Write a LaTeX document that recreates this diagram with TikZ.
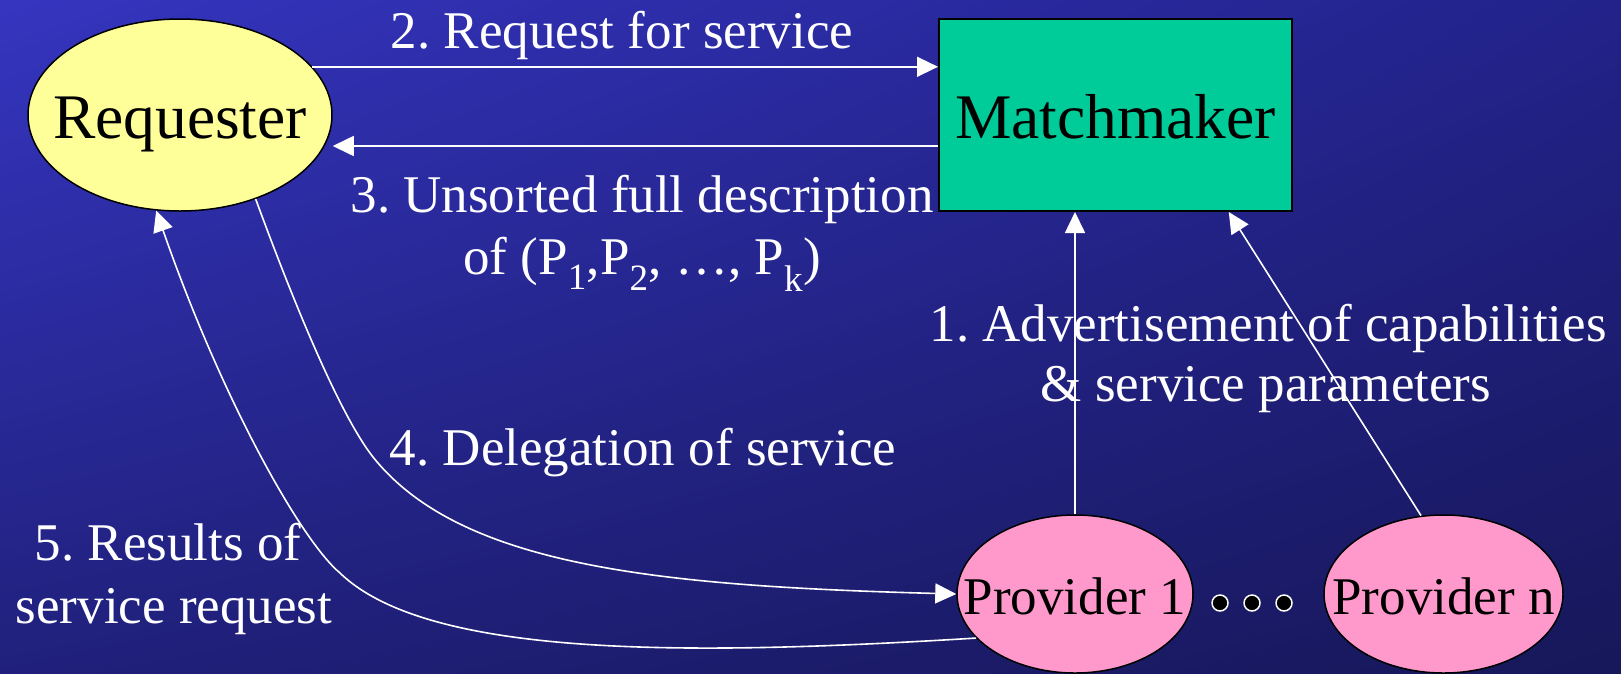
\documentclass[tikz,border=0pt]{standalone}
\usepackage{fontspec}
\setmainfont{Liberation Serif}
\usetikzlibrary{arrows.meta,calc,shapes.geometric,shadings}
\definecolor{bgUL}{HTML}{3535C0}
\definecolor{bgUR}{HTML}{22228A}
\definecolor{bgLL}{HTML}{20207C}
\definecolor{bgLR}{HTML}{17175A}
\definecolor{reqfill}{HTML}{FFFF99}
\definecolor{mmfill}{HTML}{00CC99}
\definecolor{provfill}{HTML}{FF99CC}
\frenchspacing
\begin{document}
\begin{tikzpicture}[x=1pt,y=-1pt,
  bigtext/.style={font=\fontsize{63.5}{70}\selectfont},
  midtext/.style={font=\fontsize{53}{62}\selectfont},
  lbl/.style={text=white, midtext, anchor=base, inner sep=0pt},
  oval/.style={ellipse, draw=black, line width=1.5pt, inner sep=0pt},
  conn/.style={draw=white, line width=1.6pt, -{Triangle[length=21pt,width=20pt]}},
  dotn/.style={circle, fill=black, draw=white, line width=1.5pt, minimum size=16pt, inner sep=0pt}]
\shade[upper left=bgUL, upper right=bgUR, lower left=bgLL, lower right=bgLR] (0,0) rectangle (1621,673);
\useasboundingbox (0,0) rectangle (1621,673);

% labels
\node[lbl] (t2) at (622,48) {2. Request for service};
\node[lbl] (t3a) at (642,212) {3. Unsorted full description};
\node[lbl] (t3b) at (642,274) {of (P\textsubscript{1},P\textsubscript{2}, …, P\textsubscript{k})};
\node[lbl] (t1a) at (1268,341) {1. Advertisement of capabilities};
\node[lbl] (t1b) at (1266,401) {\& service parameters};
\node[lbl] (t4) at (643,465) {4. Delegation of service};
\node[lbl] (t5a) at (168,560) {5. Results of};
\node[lbl] (t5b) at (174,623) {service request};

% nodes
\node[oval, fill=reqfill, bigtext, minimum width=304pt, minimum height=192pt,
      text height=46pt, text depth=0pt] (req) at (180,115) {\makebox[0pt]{Requester}};
\node[rectangle, draw=black, line width=2pt, fill=mmfill, bigtext, inner sep=0pt,
      minimum width=353pt, minimum height=192pt, text height=46pt, text depth=0pt]
      (mm) at (1115.5,115) {Matchmaker};
\node[oval, fill=provfill, midtext, minimum width=236pt, minimum height=158pt,
      text height=40pt, text depth=0pt] (p1) at (1075,594) {\makebox[0pt]{Provider 1}};
\node[oval, fill=provfill, midtext, minimum width=239pt, minimum height=158pt,
      text height=40pt, text depth=0pt] (pn) at (1443.5,594) {\makebox[0pt]{Provider n}};
\node[dotn] (d1) at (1220,603) {};
\node[dotn] (d2) at (1252,603) {};
\node[dotn] (d3) at (1284,603) {};

% connectors
\draw[conn] (req.20) -- (req.20 -| mm.west);
\draw[conn] ([yshift=-31pt]mm.west) -- ([yshift=-31pt]mm.west -| req.east);
\draw[conn] (p1.north) -- (p1.north |- mm.south);
\draw[conn] (pn.106) -- ($(mm.south east)!0.181!(mm.south west)$);
\draw[conn] (req.-48) .. controls (285,279) and (336,410) .. (373,457)
            .. controls (460,566) and (657,586) .. (p1.west);
\draw[conn] (p1.204) .. controls (700,655) and (430,660) .. (340,573)
            .. controls (301.5,541) and (222,400) .. (req.256);
\end{tikzpicture}
\end{document}
